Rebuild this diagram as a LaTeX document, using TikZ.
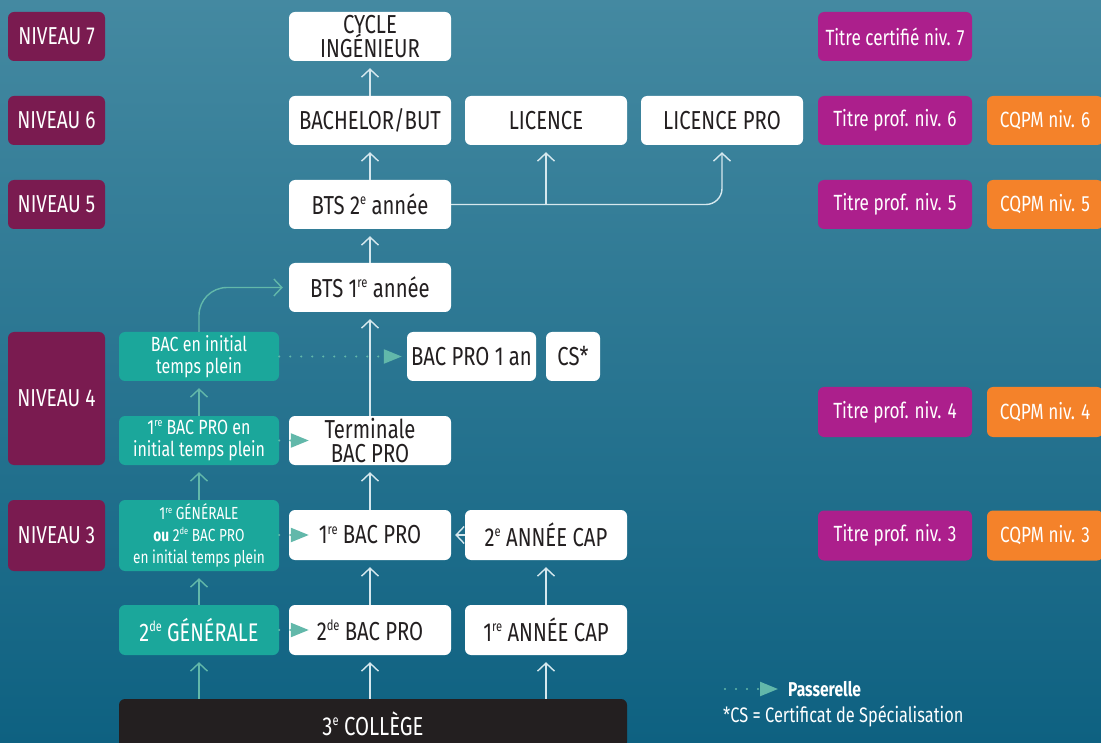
\documentclass[tikz,border=0pt]{standalone}
\usepackage{fontspec}
\usepackage{graphicx}
\setmainfont{Fira Sans}[FakeStretch=0.78]
\usetikzlibrary{arrows.meta}
\definecolor{bgtop}{RGB}{68,137,161}
\definecolor{bgbot}{RGB}{14,97,129}
\definecolor{cplum}{RGB}{122,27,80}
\definecolor{cgreen}{RGB}{27,167,155}
\definecolor{cmag}{RGB}{172,31,140}
\definecolor{corange}{RGB}{244,130,42}
\definecolor{cdark}{RGB}{35,31,32}
\definecolor{carrow}{RGB}{214,232,238}
\definecolor{ctarr}{RGB}{98,184,170}
\newcommand\sups[1]{\raisebox{0.72ex}{\scalebox{0.55}{#1}}}
\tikzset{
  sz/.style 2 args={minimum width=#1pt, minimum height=#2pt},
  box/.style={rectangle, rounded corners=6pt, inner sep=0pt, align=center},
  wbox/.style={box, fill=white, text=cdark, font=\fontsize{26}{24}\selectfont},
  lvl/.style={box, fill=cplum, text=white, font=\fontsize{24.5}{24}\selectfont},
  gbox/.style={box, fill=cgreen, text=white, font=\fontsize{20.5}{21.7}\selectfont},
  tbox/.style={box, fill=cmag, text=white, font=\fontsize{22}{24}\selectfont},
  obox/.style={box, fill=corange, text=white, font=\fontsize{22}{24}\selectfont},
  arr/.style={draw=carrow, line width=1.4pt, shorten >=7pt,
    -{Straight Barb[length=8pt,width=17pt,line width=1.4pt]}},
  tarr/.style={arr, draw=ctarr},
  pass/.style={draw=ctarr, line width=2.3pt, line cap=round,
    dash pattern=on 0pt off 11pt, -{Triangle[length=18pt,width=14pt]}}
}
\begin{document}
\begin{tikzpicture}[x=1pt,y=-1pt]
\useasboundingbox (0,0) rectangle (1101,743);
\shade[top color=bgtop, bottom color=bgbot] (0,0) rectangle (1101,743);

% levels
\node[lvl, sz={97}{49}] (n7) at (56.5,36.5) {NIVEAU 7};
\node[lvl, sz={97}{49}] (n6) at (56.5,120.5) {NIVEAU 6};
\node[lvl, sz={97}{49}] (n5) at (56.5,204.5) {NIVEAU 5};
\node[lvl, sz={97}{133}] (n4) at (56.5,398.5) {NIVEAU 4};
\node[lvl, sz={97}{71}] (n3) at (56.5,535.5) {NIVEAU 3};

% white boxes
\node[wbox, sz={162}{49}] (cyc) at (370,36.5) {CYCLE\\INGÉNIEUR};
\node[wbox, sz={162}{49}] (bach) at (370,120.5) {BACHELOR/BUT};
\node[wbox, sz={162}{49}] (lic) at (546,120.5) {LICENCE};
\node[wbox, sz={162}{49}] (licpro) at (722,120.5) {LICENCE PRO};
\node[wbox, sz={162}{49}] (bts2) at (370,204.5) {BTS 2\sups{e} année};
\node[wbox, sz={162}{49}] (bts1) at (370,287.5) {BTS 1\sups{re} année};
\node[wbox, sz={129}{49}] (bp1an) at (471.5,356.5) {BAC PRO 1 an};
\node[wbox, sz={54}{49}] (cs) at (573,356.5) {CS*};
\node[wbox, sz={162}{49}] (term) at (370,440.5) {Terminale\\BAC PRO};
\node[wbox, sz={162}{50}] (bp1) at (370,535) {1\sups{re} BAC PRO};
\node[wbox, sz={162}{50}] (cap2) at (546,535) {2\sups{e} ANNÉE CAP};
\node[wbox, sz={162}{50}] (bp2) at (370,630) {2\sups{de} BAC PRO};
\node[wbox, sz={162}{50}] (cap1) at (546,630) {1\sups{re} ANNÉE CAP};
\node[box, fill=cdark, text=white, font=\fontsize{26}{24}\selectfont, sz={508}{49}] (col) at (373,723.5) {3\sups{e} COLLÈGE};

% green boxes
\node[gbox, sz={160}{49}] (gbac) at (199,356.5) {BAC en initial\\temps plein};
\node[gbox, sz={160}{49}] (g1bp) at (199,440.5) {1\sups{re} BAC PRO en\\initial temps plein};
\node[gbox, sz={160}{71}, font=\fontsize{17.5}{21.7}\selectfont] (g1gen) at (199,535.5) {1\sups{re} GÉNÉRALE\\\textbf{ou} 2\sups{de} BAC PRO\\en initial temps plein};
\node[gbox, sz={160}{50}, font=\fontsize{25.5}{24}\selectfont] (g2gen) at (199,630) {2\sups{de} GÉNÉRALE};

% titles
\node[tbox, sz={154}{49}] (t7) at (895,36.5) {Titre certifié niv. 7};
\node[tbox, sz={154}{49}] (t6) at (895,120.5) {Titre prof. niv. 6};
\node[tbox, sz={154}{49}] (t5) at (895,204.5) {Titre prof. niv. 5};
\node[tbox, sz={154}{50}] (t4) at (895,412) {Titre prof. niv. 4};
\node[tbox, sz={154}{50}] (t3) at (895,535.5) {Titre prof. niv. 3};
\node[obox, sz={116}{49}] (q6) at (1045,120.5) {CQPM niv. 6};
\node[obox, sz={116}{49}] (q5) at (1045,204.5) {CQPM niv. 5};
\node[obox, sz={116}{50}] (q4) at (1045,412) {CQPM niv. 4};
\node[obox, sz={116}{50}] (q3) at (1045,535.5) {CQPM niv. 3};

% arrows
\draw[arr] (bach) -- (cyc);
\draw[arr] (bts2) -- (bach);
\draw[arr] (bts1) -- (bts2);
\draw[arr] (term) -- (bts1);
\draw[arr] (bp1) -- (term);
\draw[arr] (bp2) -- (bp1);
\draw[arr] (cap1) -- (cap2);
\draw[arr, shorten >=4pt] (cap2) -- (bp1);
\draw[arr] (col.north -| bp2) -- (bp2);
\draw[arr] (col.north -| cap1) -- (cap1);
\draw[arr, rounded corners=16pt] (bts2.east) -| (licpro.south);
\draw[arr] (bts2.east -| lic) -- (lic);
\draw[tarr] (col.north -| g2gen) -- (g2gen);
\draw[tarr] (g2gen) -- (g1gen);
\draw[tarr] (g1gen) -- (g1bp);
\draw[tarr] (g1bp) -- (gbac);
\draw[tarr, rounded corners=28pt, shorten >=6pt] (gbac.north) |- (bts1.west);

% passerelles
\draw[pass, shorten >=5pt] (gbac.east) -- (bp1an.west);
\draw[pass] (g1bp.east) -- ([xshift=20pt]term.west);
\draw[pass] (g1gen.east |- bp1) -- ([xshift=20pt]bp1.west);
\draw[pass] (g2gen.east) -- ([xshift=20pt]bp2.west);

% legend
\coordinate (lgA) at (725,689);
\coordinate (lgB) at (778,689);
\draw[pass] (lgA) -- (lgB);
\node[anchor=west, inner sep=0pt, text=white, font=\bfseries\fontsize{20}{20}\selectfont] (lgP) at (788,689) {Passerelle};
\node[anchor=west, inner sep=0pt, text=white, font=\fontsize{21}{20}\selectfont] (lgCS) at (723,716) {*CS = Certificat de Spécialisation};
\end{tikzpicture}
\end{document}
